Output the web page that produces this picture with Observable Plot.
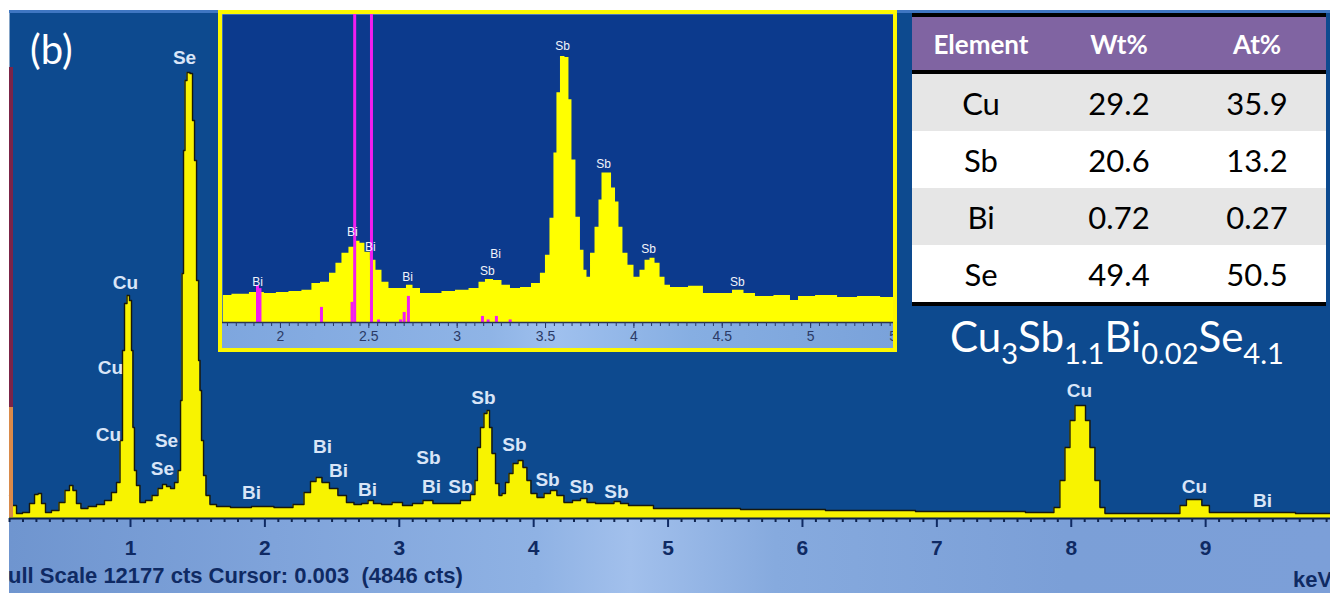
<!DOCTYPE html>
<html>
<head>
<meta charset="utf-8">
<script src="https://cdn.jsdelivr.net/npm/d3@7"></script>
<script src="https://cdn.jsdelivr.net/npm/@observablehq/plot@0.6"></script>
<style>
  html, body { margin: 0; padding: 0; background: #ffffff; }
  #fig { position: relative; width: 1330px; height: 593px; overflow: hidden; background: #ffffff; }
  #band { position: absolute; left: 9px; top: 518px; width: 1321px; height: 75px;
          background: linear-gradient(90deg, #6f95cf 0%, #7fa3da 20%, #8fb2e4 40%, #a2c0ec 47%, #86aade 58%, #7b9fd7 80%, #7c9fd8 100%); }
  #topline { position: absolute; left: 9px; top: 10px; width: 1321px; height: 3px; background: #3f76c2; }
  #strip1 { position: absolute; left: 9px; top: 67px; width: 4px; height: 340px; background: #7b2448; }
  #strip2 { position: absolute; left: 9px; top: 407px; width: 4px; height: 110px; background: #d98a4a; }
  #main { position: absolute; left: 0; top: 0; }
  #inset { position: absolute; left: 218px; top: 10px; width: 671px; height: 334px;
           border: 4px solid #fdf800; overflow: hidden;
           background: linear-gradient(90deg, #7ea6de 0%, #8fb4e6 40%, #9fc0ee 50%, #86aee2 70%, #7aa2da 100%); }
  #panel { position: absolute; left: 30px; top: 29px; font: 40px Lato, sans-serif; color: #ffffff; line-height: 40px; }
  #status { position: absolute; left: 8px; top: 565px; font: bold 22px "Liberation Sans", Arial, sans-serif;
            color: #0f2a63; line-height: 22px; white-space: pre; }
  #unit { position: absolute; left: 1293px; top: 569px; font: bold 22px "Liberation Sans", Arial, sans-serif;
          color: #0f2a63; line-height: 22px; }
  #table { position: absolute; left: 912px; top: 13px; width: 414px; font-family: Lato, sans-serif;
           border-top: 4px solid #000; border-bottom: 4px solid #000; }
  #table .row { display: flex; height: 57px; align-items: center; }
  #table .row div { width: 138px; text-align: center; }
  #table .head { height: 53px; background: #8064a2; color: #ffffff; font-weight: bold; font-size: 26px;
                 border-bottom: 4px solid #000; }
  #table .body { font-size: 31px; color: #000; }
  #table .body:nth-child(even) { background: #e6e6e6; }
  #table .body:nth-child(odd) { background: #ffffff; }
  #formula { position: absolute; left: 950px; top: 315px; font: 42px Lato, sans-serif; color: #ffffff;
             line-height: 42px; white-space: nowrap; }
  #formula span { font-size: 29px; vertical-align: -12px; }
</style>
</head>
<body>
<div id="fig">
  <div id="band"></div>
  <div id="main"></div>
  <div id="topline"></div>
  <div id="strip1"></div>
  <div id="strip2"></div>
  <div id="panel">(b)</div>
  <div id="status">ull Scale 12177 cts Cursor: 0.003  (4846 cts)</div>
  <div id="unit">keV</div>
  <div id="inset"></div>
  <div id="table"></div>
  <div id="formula"></div>
</div>
<script>
// ---- Full EDS spectrum (energy in keV, counts) ----
const mainKeV = [0.100,0.137,0.167,0.226,0.271,0.301,0.323,0.353,0.382,0.442,0.494,0.531,0.561,0.583,0.613,0.650,
  0.717,0.777,0.836,0.881,0.911,0.933,0.948,0.963,0.985,1.000,1.015,1.022,1.037,1.052,1.089,1.134,1.186,1.223,1.253,
  1.283,1.313,1.342,1.365,1.380,1.387,1.402,1.409,1.432,1.454,1.469,1.484,1.499,1.514,1.521,1.536,1.551,1.573,1.610,
  1.670,1.818,1.982,2.153,2.265,2.317,2.362,2.399,2.451,2.510,2.577,2.637,2.689,2.749,2.786,2.830,2.905,2.987,3.061,
  3.135,3.217,3.284,3.403,3.507,3.552,3.574,3.589,3.619,3.641,3.664,3.679,3.701,3.731,3.753,3.775,3.805,3.827,3.865,
  3.902,3.939,3.961,3.999,4.051,4.103,4.147,4.199,4.252,4.326,4.371,4.423,4.497,4.571,4.624,4.668,4.743,5.040,5.390,
  5.688,5.985,6.357,6.655,7.027,7.473,7.845,7.897,7.934,7.972,8.009,8.046,8.091,8.121,8.158,8.195,8.232,8.270,8.515,
  8.790,8.827,8.887,8.946,8.998,9.058,9.408,9.929];
const mainCts = [551,312,120,144,360,575,599,360,144,192,384,671,791,671,360,240,
  288,336,431,623,863,1870,4027,5154,5345,5225,4027,2181,1151,791,384,431,551,719,815,
  767,719,863,1151,2828,5873,8821,10499,10691,10667,9540,8581,5705,3787,3068,1870,1031,551,336,
  288,264,288,264,336,623,887,983,863,719,551,384,336,360,431,360,336,384,312,
  360,431,360,360,431,575,911,1702,2181,2517,2589,2181,1558,839,551,599,863,1079,1318,
  1390,1222,911,599,503,599,671,551,384,431,479,384,360,360,407,360,312,240,240,
  216,216,192,192,168,168,144,264,911,1702,2349,2709,2709,2349,1702,911,264,120,120,
  120,312,455,455,312,144,144,120];

// Peak identifications on the full spectrum
const mainLabelText = ["Se","Cu","Cu","Cu","Se","Se","Bi","Bi","Bi","Bi","Sb","Bi","Sb","Sb","Sb","Sb","Sb","Sb","Cu","Cu","Bi"];
const mainLabelKeV  = [1.402,0.963,0.851,0.836,1.268,1.238,1.900,2.429,2.548,2.763,3.217,3.240,3.455,3.626,3.857,4.103,4.356,4.616,8.061,8.917,9.423];
const mainLabelCts  = [11050,5657,3619,2013,1870,1199,623,1726,1151,695,1462,767,767,2900,1774,935,767,647,3068,767,431];

// ---- Zoomed region 1.7 – 5.5 keV ----
const insetKeV = [1.677,1.774,1.875,1.943,2.011,2.085,2.158,2.198,2.255,2.300,2.328,2.368,2.407,2.436,2.464,2.492,
  2.526,2.555,2.594,2.634,2.690,2.736,2.764,2.821,2.877,2.951,3.030,3.104,3.143,3.177,3.234,3.273,3.330,3.387,3.454,
  3.488,3.511,3.539,3.556,3.573,3.596,3.624,3.641,3.658,3.686,3.709,3.726,3.743,3.766,3.794,3.811,3.828,3.862,3.885,
  3.907,3.924,3.952,3.981,4.020,4.049,4.077,4.105,4.134,4.162,4.190,4.224,4.281,4.337,4.450,4.530,4.586,4.660,4.716,
  4.869,4.903,4.960,5.096,5.209,5.322,5.470];
const insetCts = [264,274,293,283,293,303,313,381,391,479,577,674,733,792,772,684,
  606,508,391,332,332,362,332,283,283,303,313,332,391,420,410,362,332,342,381,
  479,655,1016,1651,2238,2590,2580,2169,1583,1026,704,508,440,674,928,1192,1456,1456,1309,
  1173,928,674,557,440,508,606,625,577,440,362,342,342,352,283,283,313,283,254,
  264,215,254,264,244,254,244];

// Bi marker lines (keV, height in counts)
const markerKeV = [1.870,1.884,2.232,2.405,2.420,2.515,2.700,2.724,3.143,3.222,2.555,2.680,3.175,3.300];
const markerCts = [362,330,147,196,3000,3000,98,254,59,59,25,25,25,25];

const insetLabelText = ["Bi","Bi","Bi","Bi","Sb","Bi","Sb","Sb","Sb","Sb"];
const insetLabelKeV  = [1.870,2.407,2.509,2.719,3.171,3.217,3.596,3.828,4.083,4.586];
const insetLabelCts  = [391,879,733,440,498,664,2687,1544,713,391];

// ---- Composition table ----
const elements = ["Cu","Sb","Bi","Se"];
const wtPct = ["29.2","20.6","0.72","49.4"];
const atPct = ["35.9","13.2","0.27","50.5"];
const headers = ["Element","Wt%","At%"];
const formulaParts = [["Cu","3"],["Sb","1.1"],["Bi","0.02"],["Se","4.1"]];

const zip = (xs, ys) => xs.map((x, i) => ({x, y: ys[i]}));
const spectrum = zip(mainKeV, mainCts);
const zoomSpectrum = zip(insetKeV, insetCts);
const mainLabels = mainLabelText.map((t, i) => ({t, x: mainLabelKeV[i], y: mainLabelCts[i]}));
const insetLabels = insetLabelText.map((t, i) => ({t, x: insetLabelKeV[i], y: insetLabelCts[i]}));
const markers = zip(markerKeV, markerCts);

const majorMain = d3.range(1, 10);
const minorMain = d3.range(1, 100).map(i => i / 10).filter(v => Math.abs(v - Math.round(v)) > 1e-6);

const mainPlot = Plot.plot({
  width: 1330, height: 593,
  marginLeft: 9, marginRight: 0, marginTop: 10, marginBottom: 75,
  x: {domain: [0.0997, 9.929]},
  y: {domain: [0, 12177], axis: null},
  style: {background: "transparent", fontFamily: "'Liberation Sans', Arial, sans-serif"},
  marks: [
    Plot.frame({fill: "#0d4a8f", stroke: null}),
    Plot.areaY(spectrum, {x: "x", y: "y", curve: "step", fill: "#f8f300"}),
    Plot.line(spectrum, {x: "x", y: "y", curve: "step", stroke: "#17180c", strokeWidth: 1.4}),
    Plot.ruleY([0], {stroke: "#0b1f4a", strokeWidth: 2}),
    Plot.axisX(minorMain, {tickSize: 4, tickFormat: () => "", stroke: "#0f2450", strokeWidth: 2, label: null}),
    Plot.axisX(majorMain, {tickSize: 9, tickPadding: 13, tickFormat: d => String(d), fontSize: 21, fontWeight: "bold",
      color: "#0f2a63", strokeWidth: 2, label: null}),
    Plot.text(mainLabels, {x: "x", y: "y", text: "t", fill: "#d9e5f7", fontSize: 19, fontWeight: "bold",
      fontFamily: "'Liberation Sans', Arial, sans-serif"})
  ]
});
document.getElementById("main").appendChild(mainPlot);

const majorInset = [2, 2.5, 3, 3.5, 4, 4.5, 5, 5.5];
const minorInset = d3.range(34, 110).map(i => +(i * 0.05).toFixed(2));

const insetPlot = Plot.plot({
  width: 671, height: 334,
  marginLeft: 0, marginRight: 0, marginTop: 0, marginBottom: 26,
  x: {domain: [1.672, 5.469]},
  y: {domain: [0, 3000], axis: null},
  style: {background: "transparent", fontFamily: "'Liberation Sans', Arial, sans-serif"},
  marks: [
    Plot.frame({fill: "#0c3a8d", stroke: null}),
    Plot.areaY(zoomSpectrum, {x: "x", y: "y", curve: "step", fill: "#ffff00"}),
    Plot.ruleX(markers, {x: "x", y1: 0, y2: "y", stroke: "#f21ef0", strokeWidth: 3}),
    Plot.ruleY([0], {stroke: "#2b3450", strokeWidth: 1.5}),
    Plot.axisX(minorInset, {tickSize: 4, tickFormat: () => "", stroke: "#2b3a60", label: null}),
    Plot.axisX(majorInset, {tickSize: 6, tickPadding: 3, tickFormat: d => String(d), fontSize: 14,
      color: "#2b3a66", label: null}),
    Plot.text(insetLabels, {x: "x", y: "y", text: "t", fill: "#f2f4fa", fontSize: 12})
  ]
});
document.getElementById("inset").appendChild(insetPlot);

// Composition table
const table = document.getElementById("table");
const head = document.createElement("div");
head.className = "row head";
headers.forEach(h => { const c = document.createElement("div"); c.textContent = h; head.appendChild(c); });
table.appendChild(head);
elements.forEach((el, i) => {
  const r = document.createElement("div");
  r.className = "row body";
  [el, wtPct[i], atPct[i]].forEach(v => { const c = document.createElement("div"); c.textContent = v; r.appendChild(c); });
  table.appendChild(r);
});

// Empirical formula with subscripts
const formula = document.getElementById("formula");
formulaParts.forEach(([sym, n]) => {
  formula.appendChild(document.createTextNode(sym));
  const s = document.createElement("span");
  s.textContent = n;
  formula.appendChild(s);
});
</script>
</body>
</html>
